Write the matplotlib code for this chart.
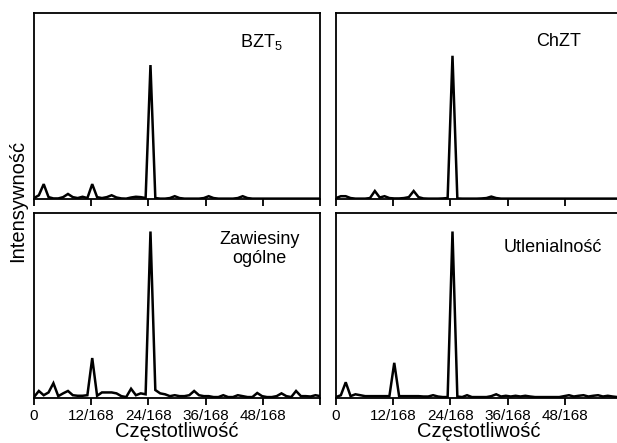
import numpy as np
import matplotlib
matplotlib.use('Agg')
import matplotlib.pyplot as plt

plt.rcParams['font.family'] = ['Liberation Sans', 'DejaVu Sans']
plt.rcParams['mathtext.default'] = 'regular'

# periodogram ordinates, frequencies k/165 (k = 0..59), intensity in % of panel height
n_obs = 165
k = np.arange(60)

bzt5 = [0.5, 2, 8, 1, 0.3, 0.3, 1, 2.7, 1, 0.5,
        1.2, 0.5, 8, 1, 0.5, 1, 2, 0.8, 0.3, 0.2,
        0.8, 1.2, 1, 0.5, 72, 0.5, 0.2, 0.2, 0.5, 1.5,
        0.5, 0.2, 0.2, 0.2, 0.2, 0.5, 1.5, 0.5, 0.2, 0.2,
        0.2, 0.2, 0.5, 1.5, 0.5, 0.2, 0.2, 0.2, 0.2, 0.2,
        0.2, 0.2, 0.2, 0.2, 0.2, 0.2, 0.2, 0.2, 0.2, 0.2]

chzt = [0.5, 1.5, 1.5, 0.5, 0.2, 0.2, 0.2, 0.5, 4.3, 0.8,
        1.5, 0.5, 0.3, 0.3, 0.5, 1.0, 4.3, 1.0, 0.3, 0.2,
        0.2, 0.2, 0.3, 0.5, 77, 0.3, 0.2, 0.2, 0.2, 0.2,
        0.3, 0.5, 1.3, 0.5, 0.2, 0.2, 0.2, 0.2, 0.2, 0.2,
        0.2, 0.2, 0.2, 0.2, 0.2, 0.2, 0.2, 0.2, 0.2, 0.2,
        0.2, 0.2, 0.2, 0.2, 0.2, 0.2, 0.2, 0.2, 0.2, 0.2]

zawiesiny = [0.5, 3.8, 1.5, 3, 8, 1, 2.5, 3.8, 1.5, 1.2,
             1.2, 1.5, 21.6, 1.2, 3, 3, 3, 2.5, 1, 0.5,
             5, 1.5, 2.5, 2, 90, 4.3, 2.5, 2, 1, 1.5,
             1, 1, 1.5, 3.8, 1.5, 1, 1, 0.5, 0.5, 1.5,
             0.5, 0.5, 1.5, 1, 0.5, 0.5, 2.7, 1, 0.5, 0.5,
             1, 2.5, 1, 0.5, 3.8, 1, 1, 0.8, 1.5, 1]

utlenialnosc = [0.5, 1.5, 8.5, 1, 2, 1.5, 1, 1, 1, 1,
                1, 1, 19, 1, 1, 1, 1, 1, 0.8, 0.8,
                1.5, 0.8, 0.5, 0.5, 90, 0.8, 0.5, 1.5, 0.5, 0.5,
                0.5, 0.5, 1, 2, 0.8, 1.2, 0.8, 1.2, 0.8, 1.2,
                0.8, 0.5, 0.5, 0.5, 0.5, 0.5, 0.5, 1, 1.5, 0.8,
                1.2, 1.5, 0.8, 1.2, 1.5, 0.8, 1.2, 0.8, 0.5, 0.5]

tick_steps = [0, 12, 24, 36, 48, 60]
tick_labels = ['0', '12/168', '24/168', '36/168', '48/168', '']

freq = k / n_obs

fig = plt.figure(figsize=(6.17, 4.43), dpi=100)

# [left, bottom, width, height] in figure fraction
boxes = [
    [0.0551, 0.5508, 0.4635, 0.4199],
    [0.5446, 0.5508, 0.4635, 0.4199],
    [0.0551, 0.1016, 0.4635, 0.4176],
    [0.5446, 0.1016, 0.4635, 0.4176],
]
series = [bzt5, chzt, zawiesiny, utlenialnosc]
names = ['BZT$_5$', 'ChZT', 'Zawiesiny\nogólne', 'Utlenialność']
name_pos = [(0.72, 0.844, 'left'), (0.698, 0.844, 'left'),
            (0.788, 0.805, 'center'), (0.759, 0.816, 'center')]

for i in range(4):
    ax = fig.add_axes(boxes[i])
    ax.plot(freq, series[i], color='black', lw=1.8, solid_joinstyle='miter')
    ax.set_xlim(0, 60 / 168)
    ax.set_ylim(0, 100)
    ax.set_yticks([])
    ax.set_xticks(np.array(tick_steps) / 168)
    if i >= 2:
        ax.set_xticklabels(tick_labels, fontsize=11)
        ax.set_xlabel('Częstotliwość', fontsize=14.5, labelpad=-1)
    else:
        ax.set_xticklabels([])
    ax.tick_params(axis='x', direction='out', length=5, width=1.3, pad=3)
    for s in ax.spines.values():
        s.set_linewidth(1.3)
    tx, ty, ha = name_pos[i]
    ax.text(tx, ty, names[i], transform=ax.transAxes, ha=ha, va='center',
            fontsize=13, multialignment='center', linespacing=1.1)

fig.text(0.029, 0.546, 'Intensywność', rotation=90, ha='center', va='center',
         fontsize=14.5)

fig.savefig('out.png', dpi=100)
